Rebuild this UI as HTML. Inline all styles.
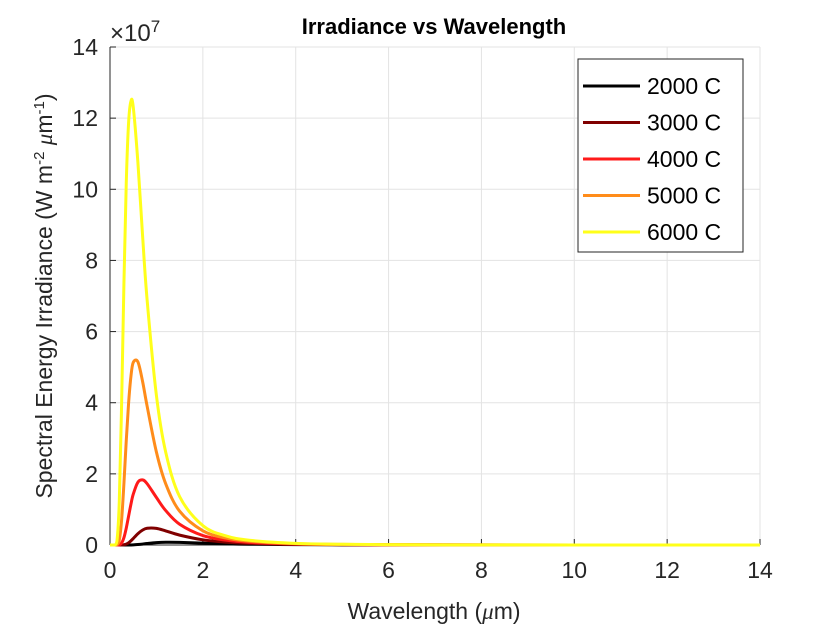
<!DOCTYPE html>
<html><head><meta charset="utf-8"><style>
body{margin:0;background:#fff;}
svg{display:block;font-family:"Liberation Sans",Arial,sans-serif;}
</style></head><body>
<svg id="chart" width="840" height="630" viewBox="0 0 840 630">
<rect x="0" y="0" width="840" height="630" fill="#fff"/>
<g id="grid"></g>
<g id="axes"></g>
<g id="series"></g>
<text x="434" y="34" text-anchor="middle" font-weight="bold" font-size="22" fill="#000">Irradiance vs Wavelength</text>
<text x="434" y="619" text-anchor="middle" font-size="23" fill="#262626">Wavelength (<tspan font-style="italic" font-family="Liberation Serif">μ</tspan>m)</text>
<text transform="translate(52,296) rotate(-90)" text-anchor="middle" font-size="23" fill="#262626">Spectral Energy Irradiance (W m<tspan baseline-shift="super" font-size="15">-2</tspan> <tspan font-style="italic" font-family="Liberation Serif">μ</tspan>m<tspan baseline-shift="super" font-size="15">-1</tspan>)</text>
<text x="110" y="41" font-size="24" fill="#262626">×10<tspan baseline-shift="super" font-size="17">7</tspan></text>
<g id="legend"></g>
</svg>
<script>
const wavelengths=[0,0.1,0.15,0.2,0.25,0.3,0.35,0.4,0.45,0.5,0.6,0.7,0.8,1,1.2,1.5,2,2.5,3,4,5,6,8,10,14];
const s2000=[0,0,0,0,0,0,0,0.0005,0.001,0.0038,0.0127,0.026,0.042,0.067,0.077,0.074,0.052,0.033,0.021,0.0094,0.0047,0.0026,0.0009,0.0004,0.0001];
const s3000=[0,0,0,0,0.0009,0.0067,0.025,0.062,0.116,0.182,0.317,0.418,0.471,0.467,0.396,0.278,0.146,0.080,0.046,0.018,0.0085,0.0045,0.0016,0.0007,0.0002];
const s4000=[0,0,0,0.006,0.054,0.206,0.473,0.807,1.14,1.425,1.764,1.83,1.722,1.336,0.968,0.584,0.266,0.135,0.074,0.028,0.0125,0.0064,0.0022,0.0009,0.0003];
const s5000=[0,0,0.006,0.139,0.70,1.73,2.93,3.98,4.73,5.13,5.15,4.61,3.90,2.61,1.72,0.95,0.40,0.194,0.104,0.037,0.0165,0.0084,0.0028,0.0012,0.0003];
const s6000=[0,0.0004,0.113,1.22,3.97,7.36,10.17,11.86,12.47,12.32,10.77,8.73,6.88,4.2,2.61,1.36,0.544,0.255,0.134,0.047,0.021,0.010,0.0034,0.0015,0.0004];
const seriesNames=["2000 C","3000 C","4000 C","5000 C","6000 C"];
const seriesValues=[s2000,s3000,s4000,s5000,s6000];
const seriesColors=["#000000","#800000","#ff1a1a","#ff8c1a","#ffff1a"];
const xTicks=[0,2,4,6,8,10,12,14];
const yTicks=[0,2,4,6,8,10,12,14];

const NS="http://www.w3.org/2000/svg";
const L=110,R=760,T=47,B=545;
const xs=v=>L+(v-0)/(14-0)*(R-L);
const ys=v=>B-(v-0)/(14-0)*(B-T);
function mk(tag,attrs,parent){const e=document.createElementNS(NS,tag);for(const k in attrs)e.setAttribute(k,attrs[k]);parent.appendChild(e);return e;}
const grid=document.getElementById('grid'),axes=document.getElementById('axes'),ser=document.getElementById('series'),leg=document.getElementById('legend');
xTicks.forEach(t=>{
  const g=mk('line',{x1:xs(t),x2:xs(t),y1:T,y2:B,stroke:'#e3e3e3','stroke-width':1},grid);
  
  
  const tk=mk('line',{x1:xs(t),x2:xs(t),y1:B,y2:B-6,stroke:'#262626','stroke-width':1},axes);
  
  
  const tx=mk('text',{x:xs(t),y:B+33,'text-anchor':'middle','font-size':23,fill:'#262626'},axes);
  tx.textContent=t;
  
  
});
yTicks.forEach(t=>{
  const g=mk('line',{x1:L,x2:R,y1:ys(t),y2:ys(t),stroke:'#e3e3e3','stroke-width':1},grid);
  
  
  const tk=mk('line',{x1:L,x2:L+6,y1:ys(t),y2:ys(t),stroke:'#262626','stroke-width':1},axes);
  
  
  const tx=mk('text',{x:L-12,y:ys(t)+8,'text-anchor':'end','font-size':23,fill:'#262626'},axes);
  tx.textContent=t;
  
  
});
const ax1=mk('line',{x1:L,x2:L,y1:T,y2:B,stroke:'#262626','stroke-width':1},axes);


const ax2=mk('line',{x1:L,x2:R,y1:B,y2:B,stroke:'#262626','stroke-width':1},axes);



function pathFor(vals){
  const p=wavelengths.map((w,i)=>[xs(w),ys(vals[i])]);
  let d='M'+p[0][0]+','+p[0][1];
  for(let i=0;i<p.length-1;i++){
    const p0=p[Math.max(0,i-1)],p1=p[i],p2=p[i+1],p3=p[Math.min(p.length-1,i+2)];
    let c1y=p1[1]+(p2[1]-p0[1])/6,c2y=p2[1]-(p3[1]-p1[1])/6;
    c1y=Math.min(c1y,B);c2y=Math.min(c2y,B);
    d+=' C'+(p1[0]+(p2[0]-p0[0])/6)+','+c1y+' '+(p2[0]-(p3[0]-p1[0])/6)+','+c2y+' '+p2[0]+','+p2[1];
  }
  return d;
}
seriesValues.forEach((vals,i)=>{
  const pa=mk('path',{d:pathFor(vals),fill:'none',stroke:seriesColors[i],'stroke-width':3,'stroke-linejoin':'round'},ser);
  
  
});
const box=mk('rect',{x:578,y:59,width:165,height:193,fill:'#fff',stroke:'#262626','stroke-width':1},leg);


seriesNames.forEach((n,i)=>{
  const y=86+i*36.5;
  const ln=mk('line',{x1:583,x2:640,y1:y,y2:y,stroke:seriesColors[i],'stroke-width':3},leg);
  
  
  const tx=mk('text',{x:647,y:y+8,'font-size':23,fill:'#000'},leg);
  tx.textContent=n;
  
  
});
</script>
</body></html>
